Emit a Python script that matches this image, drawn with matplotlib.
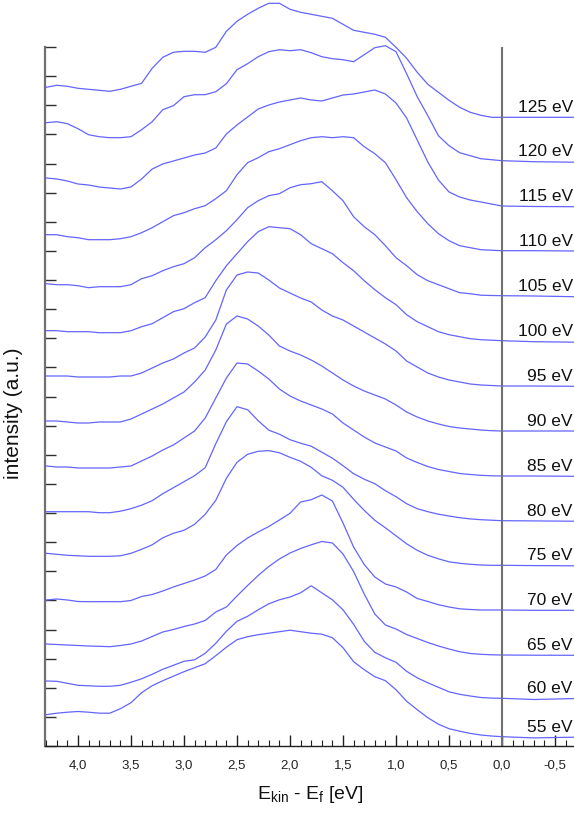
import numpy as np
import matplotlib
matplotlib.use("Agg")
import matplotlib.pyplot as plt
from matplotlib.ticker import MultipleLocator, FixedLocator, FuncFormatter

plt.rcParams['font.family'] = ['Liberation Sans', 'DejaVu Sans']
plt.rcParams['mathtext.fontset'] = 'custom'
plt.rcParams['mathtext.rm'] = 'Liberation Sans'
plt.rcParams['mathtext.it'] = 'Liberation Sans:italic'

# kinetic energy relative to Fermi level (eV)
energy = [4.3, 4.2, 4.1, 4.0, 3.9, 3.8, 3.7, 3.6, 3.5, 3.4,
          3.3, 3.2, 3.1, 3.0, 2.9, 2.8, 2.7, 2.6, 2.5, 2.4,
          2.3, 2.2, 2.1, 2.0, 1.9, 1.8, 1.7, 1.6, 1.5, 1.4,
          1.3, 1.2, 1.1, 1.0, 0.9, 0.8, 0.7, 0.6, 0.5, 0.4,
          0.3, 0.2, 0.1, 0.0, -0.3, -0.68]

photon_energies = ["125 eV", "120 eV", "115 eV", "110 eV", "105 eV", "100 eV", "95 eV",
                   "90 eV", "85 eV", "80 eV", "75 eV", "70 eV", "65 eV", "60 eV", "55 eV"]

# vertical stacking offsets (a.u.)
offsets = [628.7, 585.3, 540.0, 495.3, 450.3, 405.3, 360.0,
           315.0, 270.0, 225.3, 180.7, 136.0, 91.0, 47.7, 9.3]

i125 = [30, 32, 31, 29, 28, 27, 26, 28, 31, 34, 49, 60, 65, 66, 66, 65, 70, 86, 96, 103,
        109, 114, 114, 108, 105, 103, 101, 99, 93, 87, 85, 83, 80, 70, 59, 45, 33, 25, 17, 10,
        5, 2, 0, 0, 0, 0]
i120 = [38, 39, 37, 32, 26, 24, 23, 23, 24, 31, 39, 51, 55, 64, 66, 66, 69, 77, 91, 97,
        104, 109, 111, 110, 111, 108, 104, 102, 101, 99, 106, 113, 115, 109, 87, 64, 45, 25, 15, 8,
        5, 2, 1, 0, -1, -1.5]
i115 = [28, 27, 25, 22, 21, 19, 18, 17, 19, 27, 37, 42, 45, 48, 51, 53, 58, 72, 81, 89,
        97, 101, 104, 106, 108, 106, 105, 108, 111, 112, 114, 116, 112, 103, 88, 66, 44, 26, 14, 9,
        6, 4, 2, 0, -0.5, -0.7]
i110 = [16, 16, 14, 13, 11, 11, 11, 12, 14, 18, 23, 29, 35, 38, 42, 45, 52, 60, 76, 88,
        93, 99, 102, 106, 110, 113, 114, 113, 114, 113, 104, 97, 88, 71, 53, 39, 27, 17, 10, 5,
        3, 1, 0.5, 0, 0, -0.3]
i105 = [12, 11, 11, 10, 8, 9, 9, 9, 11, 17, 20, 25, 29, 32, 38, 48, 56, 65, 76, 88,
        95, 100, 102, 108, 111, 112, 114, 105, 95, 79, 69, 61, 50, 38, 30, 21, 15, 11, 7, 3,
        2, 0.5, 0.2, 0, -0.3, -1]
i100 = [10, 10, 9, 9, 9, 8, 8, 8, 10, 14, 17, 23, 29, 32, 38, 43, 60, 75, 87, 99,
        109, 114, 113, 112, 106, 97, 92, 87, 78, 70, 60, 51, 43, 36, 26, 19, 14, 9, 6, 4,
        2, 1, 0.5, 0, -1, -1.5]
i95 = [10, 10, 10, 9, 9, 9, 9, 10, 10, 13, 18, 23, 27, 33, 38, 49, 66, 96, 111, 114,
       113, 106, 98, 93, 88, 84, 76, 70, 66, 60, 54, 48, 42, 35, 25, 19, 13, 9, 6, 4,
       2, 1, 0.5, 0, 0, -0.3]
i90 = [10, 10, 9, 8, 8, 9, 9, 9, 12, 17, 22, 27, 33, 39, 49, 61, 81, 107, 115, 112,
       105, 96, 85, 80, 76, 71, 65, 58, 51, 45, 40, 36, 32, 26, 19, 14, 10, 7, 4.5, 3,
       2, 1, 0.3, 0, 0, 0]
i85 = [10, 9, 9, 8, 8, 8, 8, 9, 10, 15, 20, 26, 31, 38, 45, 58, 78, 98, 113, 112,
       105, 97, 87, 80, 75, 71, 67, 62, 53, 46, 39, 33, 29, 25, 18, 13.5, 9.5, 6.5, 4.5, 2.5,
       1.5, 0.7, 0.2, 0, 0, -0.3]
i80 = [9, 9, 9, 9, 9, 8, 8, 9.5, 12, 15.5, 20, 27, 33, 39, 45, 53, 77, 99, 114, 111,
       100, 90.5, 86.5, 81, 77.5, 74.5, 68.5, 62.5, 55, 47, 41.5, 37, 30, 24, 17, 12, 9, 6.5, 4.7, 3,
       1.8, 1, 0.5, 0, -0.2, -0.5]
i75 = [12, 11, 10, 9.5, 9, 9, 9, 9.5, 12, 16, 20.5, 27.5, 32, 35, 41, 51, 65, 87, 103, 111,
       114, 114.7, 112.5, 108, 104, 98, 89.5, 85, 78, 66, 55, 45, 37.5, 29.5, 21.5, 15, 10, 6.5, 3.5, 2,
       1, 0.3, 0, 0, -0.3, -0.5]
i70 = [10, 11, 10, 8.5, 8.3, 8.3, 8.3, 8.3, 9.5, 13.5, 15.5, 19, 23, 26.5, 30, 34, 40.5, 55, 64.5, 72,
       78, 83.5, 90, 96.7, 108, 110.3, 115, 109, 87, 63, 45.5, 33, 26, 23, 18, 11.5, 8.5, 5.3, 3, 1.2,
       0.5, 0, 0, 0, -0.3, -0.3]
i65 = [11, 10.5, 10, 9.5, 9, 8.7, 8.3, 9.5, 11, 14, 18.5, 23, 25.5, 28.5, 31, 34.5, 43, 48, 59, 69.5,
       79.5, 88.5, 96, 102, 106.5, 110.2, 113.5, 112, 101, 83.5, 61, 41, 30, 26, 20.5, 16.5, 12.5, 9, 6, 3.3,
       1.5, 0.7, 0.2, 0, -0.2, -0.3]
i60 = [17.3, 17, 15, 13, 12.5, 12, 12, 13, 16, 19.5, 24, 29, 33, 37, 38.5, 45, 55, 67, 77, 82,
       88.5, 94.5, 98.5, 101.3, 105.5, 112.5, 105.5, 98.5, 88.5, 74, 57, 46, 40.5, 36, 27, 20.5, 15.5, 11, 6.5, 4,
       2.3, 0.8, 0.2, 0, -1.2, -0.3]
i55 = [22, 23.5, 24.5, 25.2, 24.5, 23.5, 23.5, 28, 34, 44, 51, 56, 60.5, 65, 69, 73, 81, 89.5, 97, 100,
       102, 103.5, 105, 106.5, 105, 103.5, 102.5, 99, 89, 75, 67, 60, 56, 47, 35.5, 27, 19, 12.5, 8, 5.5,
       3.3, 1.7, 0.7, 0, -1.2, -0.5]

spectra = [i125, i120, i115, i110, i105, i100, i95, i90, i85, i80, i75, i70, i65, i60, i55]

W, H = 574, 814
fig = plt.figure(figsize=(W / 100, H / 100), dpi=100)
ax = fig.add_axes([45 / W, 68 / H, 529 / W, 699 / H])

line_color = '#6464ff'
for lab, off, vals in zip(photon_energies, offsets, spectra):
    ax.plot(energy, np.array(vals) + off, color=line_color, lw=0.9, clip_on=False)
    ax.text(-0.668, off + 5, lab, ha='right', va='baseline', fontsize=12.5, color='#111111')

ax.axvline(0.0, color='#707070', lw=1.5)

ax.set_xlim(4.311, -0.679)
ax.set_ylim(0, 699)

for s in ['top', 'right']:
    ax.spines[s].set_visible(False)
ax.spines['left'].set_color('#707070')
ax.spines['left'].set_linewidth(1.6)
ax.spines['bottom'].set_color('#202020')
ax.spines['bottom'].set_linewidth(1.0)

ax.xaxis.set_major_locator(FixedLocator([4.0, 3.5, 3.0, 2.5, 2.0, 1.5, 1.0, 0.5, 0.0, -0.5]))
ax.xaxis.set_minor_locator(MultipleLocator(0.1))
ax.xaxis.set_major_formatter(FuncFormatter(lambda v, p: f"{v:.1f}".replace('.', ',')))
ax.tick_params(axis='x', which='major', direction='in', length=8, width=1.0,
               labelsize=9.5, pad=10, colors='#202020', labelcolor='#222222')
ax.tick_params(axis='x', which='minor', direction='in', length=4, width=0.8, colors='#202020')

ax.yaxis.set_major_locator(FixedLocator(np.arange(25) * 29.125))
ax.yaxis.set_minor_locator(FixedLocator([]))
ax.tick_params(axis='y', which='major', direction='in', length=8, width=1.0,
               labelleft=False, colors='#303030')

fig.text(310 / W, 1 - 799 / H, r'E$_{\mathrm{kin}}$ - E$_{\mathrm{f}}$ [eV]',
         ha='center', va='baseline', fontsize=14, color='#111111')
fig.text(14 / W, 1 - 413.5 / H, 'intensity (a.u.)', rotation=90,
         ha='center', va='center', fontsize=15, color='#111111')

fig.savefig('out.png', dpi=100)
